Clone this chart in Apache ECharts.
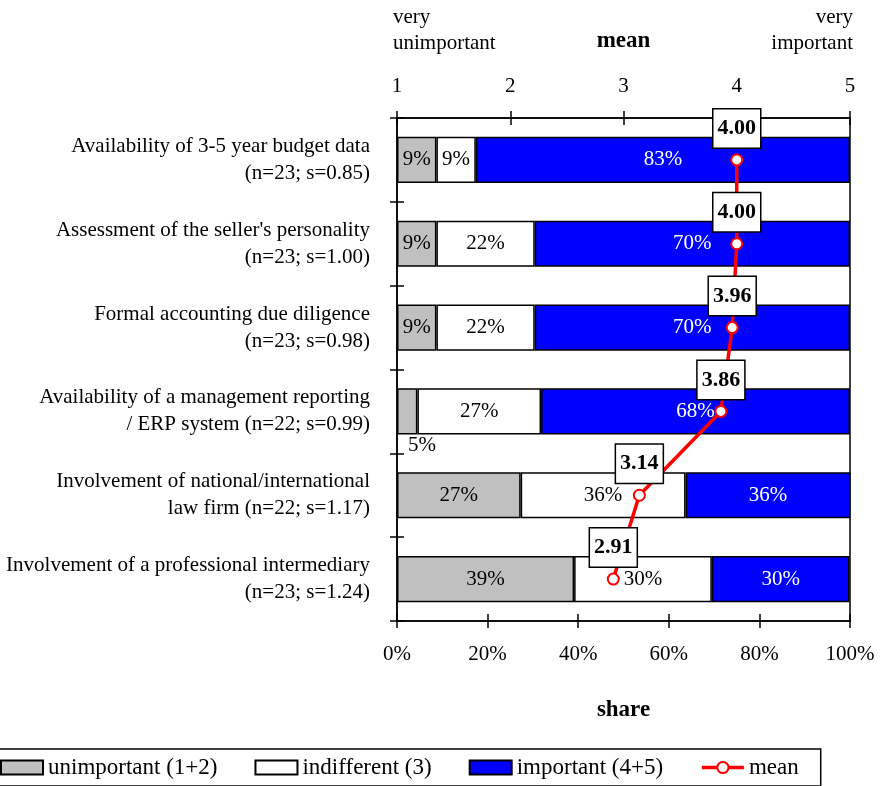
<!DOCTYPE html>
<html>
<head>
<meta charset="utf-8">
<title>Importance of due diligence factors</title>
<script src="https://cdn.jsdelivr.net/npm/echarts@6/dist/echarts.min.js"></script>
<style>
  html, body { margin: 0; padding: 0; background: #fff; }
  #chart { width: 884px; height: 786px; }
</style>
</head>
<body>
<div id="chart"></div>
<script>
// Factors rated by respondents, top to bottom
const categories = [
  "Availability of 3-5 year budget data\n(n=23; s=0.85)",
  "Assessment of the seller's personality\n(n=23; s=1.00)",
  "Formal accounting due diligence\n(n=23; s=0.98)",
  "Availability of a management reporting\n/ ERP system (n=22; s=0.99)",
  "Involvement of national/international\nlaw firm (n=22; s=1.17)",
  "Involvement of a professional intermediary\n(n=23; s=1.24)"
];

// Share of answers in percent
const unimportant = [8.7, 8.7, 8.7, 4.5, 27.3, 39.1];
const indifferent = [8.7, 21.7, 21.7, 27.3, 36.4, 30.4];
const important   = [82.6, 69.6, 69.6, 68.2, 36.4, 30.4];

// Mean rating on the 1 (very unimportant) .. 5 (very important) scale
const means = [4.00, 4.00, 3.96, 3.86, 3.14, 2.91];

const shareTicks = [0, 20, 40, 60, 80, 100];
const meanTicks = [1, 2, 3, 4, 5];

const FONT = '"Liberation Serif", "Times New Roman", serif';
const INK = '#000';
const FS = 21;

const chart = echarts.init(document.getElementById('chart'), null, { renderer: 'canvas' });

const pctLabel = (color) => ({
  show: true,
  position: 'inside',
  fontFamily: FONT,
  fontSize: FS,
  color: color,
  formatter: (p) => Math.round(p.value) + '%'
});

const barStyle = (fill) => ({ color: fill, borderColor: INK, borderWidth: 1.5 });

// The 4.5 % segment is too narrow for its label, so it sits just under the bar
const unimportantData = unimportant.map((v) => v < 6
  ? { value: v, label: { position: [11, 47], align: 'left', verticalAlign: 'top' } }
  : v);

const option = {
  backgroundColor: '#fff',
  animation: false,
  textStyle: { fontFamily: FONT, color: INK },
  grid: {
    left: 397, right: 34, top: 118, bottom: 165,
    show: true, borderColor: INK, borderWidth: 1.5, backgroundColor: '#fff'
  },
  legend: {
    top: 749, left: -6,
    padding: [7, 22, 7, 6],
    itemWidth: 42, itemHeight: 14, itemGap: 37,
    borderColor: INK, borderWidth: 1.5, borderRadius: 0,
    textStyle: { fontFamily: FONT, fontSize: 23, color: INK, lineHeight: 22 },
    data: [
      { name: 'unimportant (1+2)', icon: 'rect' },
      { name: 'indifferent (3)', icon: 'rect' },
      { name: 'important (4+5)', icon: 'rect' },
      { name: 'mean', lineStyle: { width: 3.5 } }
    ]
  },
  graphic: [
    {
      type: 'text', x: 393, y: 4,
      style: { text: 'very\nunimportant', font: FS + 'px ' + FONT, fill: INK, lineHeight: 26, align: 'left' }
    },
    {
      type: 'text', x: 853, y: 4,
      style: { text: 'very\nimportant', font: FS + 'px ' + FONT, fill: INK, lineHeight: 26, align: 'right' }
    }
  ],
  xAxis: [
    {
      type: 'value', position: 'bottom',
      min: shareTicks[0], max: shareTicks[shareTicks.length - 1], interval: 20,
      axisLine: { show: true, lineStyle: { color: INK, width: 1.5 } },
      axisTick: { show: true, inside: false, length: 7, lineStyle: { color: INK, width: 1.5 } },
      axisLabel: { formatter: '{value}%', margin: 23, fontSize: FS, fontFamily: FONT, color: INK },
      splitLine: { show: false },
      name: 'share', nameLocation: 'middle', nameGap: 78,
      nameTextStyle: { fontFamily: FONT, fontSize: 23, fontWeight: 'bold', color: INK }
    },
    {
      type: 'value', position: 'top',
      min: meanTicks[0], max: meanTicks[meanTicks.length - 1], interval: 1,
      axisLine: { show: true, lineStyle: { color: INK, width: 1.5 } },
      axisTick: { show: true, inside: true, length: 7, lineStyle: { color: INK, width: 1.5 } },
      axisLabel: { margin: 21, fontSize: FS, fontFamily: FONT, color: INK },
      splitLine: { show: false },
      name: 'mean', nameLocation: 'middle', nameGap: 77,
      nameTextStyle: { fontFamily: FONT, fontSize: 23, fontWeight: 'bold', color: INK, verticalAlign: 'middle' }
    },
    {
      // second half of the crossing ticks on the share axis
      type: 'value', position: 'bottom',
      min: shareTicks[0], max: shareTicks[shareTicks.length - 1], interval: 20,
      axisLine: { show: false },
      axisTick: { show: true, inside: true, length: 7, lineStyle: { color: INK, width: 1.5 } },
      axisLabel: { show: false }, splitLine: { show: false }
    },
    {
      // second half of the crossing ticks on the mean axis
      type: 'value', position: 'top',
      min: meanTicks[0], max: meanTicks[meanTicks.length - 1], interval: 1,
      axisLine: { show: false },
      axisTick: { show: true, inside: false, length: 7, lineStyle: { color: INK, width: 1.5 } },
      axisLabel: { show: false }, splitLine: { show: false }
    }
  ],
  yAxis: [
    {
      type: 'category', inverse: true, position: 'left', data: categories,
      axisLine: { show: true, lineStyle: { color: INK, width: 1.5 } },
      axisTick: { show: true, inside: false, length: 7, lineStyle: { color: INK, width: 1.5 } },
      axisLabel: { margin: 27, fontSize: FS, lineHeight: 27, align: 'right', fontFamily: FONT, color: INK }
    },
    {
      type: 'category', inverse: true, position: 'left', data: categories,
      axisLine: { show: false },
      axisTick: { show: true, inside: true, length: 7, lineStyle: { color: INK, width: 1.5 } },
      axisLabel: { show: false }
    }
  ],
  series: [
    {
      name: 'unimportant (1+2)', type: 'bar', stack: 'share', barCategoryGap: '45%',
      xAxisIndex: 0, yAxisIndex: 0,
      itemStyle: barStyle('#c0c0c0'), label: pctLabel(INK), data: unimportantData
    },
    {
      name: 'indifferent (3)', type: 'bar', stack: 'share',
      xAxisIndex: 0, yAxisIndex: 0,
      itemStyle: barStyle('#ffffff'), label: pctLabel(INK), data: indifferent
    },
    {
      name: 'important (4+5)', type: 'bar', stack: 'share',
      xAxisIndex: 0, yAxisIndex: 0,
      itemStyle: barStyle('#0000ff'), label: pctLabel('#ffffff'), data: important
    },
    {
      name: 'mean', type: 'line', xAxisIndex: 1, yAxisIndex: 0, z: 5,
      symbol: 'circle', symbolSize: 11,
      lineStyle: { color: '#ff0000', width: 3.5 },
      itemStyle: { color: '#ffffff', borderColor: '#ff0000', borderWidth: 2 },
      label: {
        show: true, position: 'top', distance: 6,
        fontFamily: FONT, fontSize: 22, fontWeight: 'bold', color: INK,
        backgroundColor: '#fff', borderColor: INK, borderWidth: 1.5,
        padding: [8, 4], lineHeight: 22,
        formatter: (p) => p.value.toFixed(2)
      },
      data: means
    }
  ]
};

chart.setOption(option);
</script>
</body>
</html>
